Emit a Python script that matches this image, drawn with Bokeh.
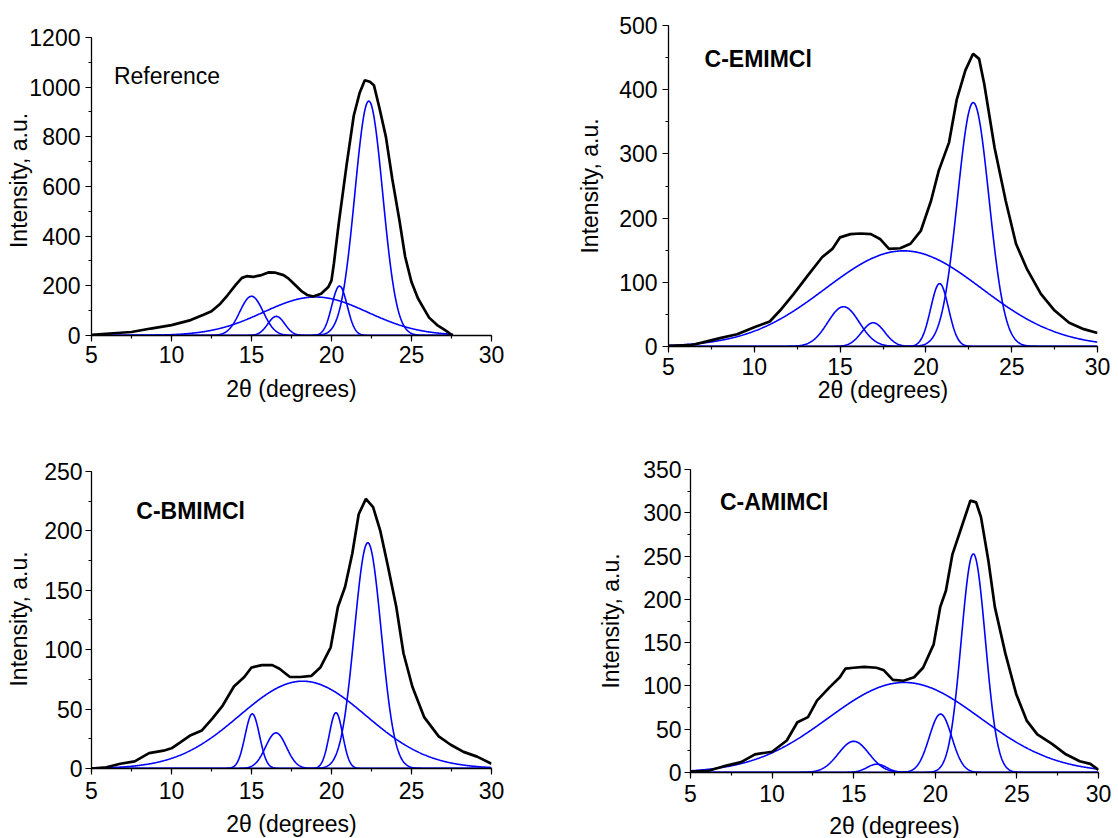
import numpy as np
from bokeh.plotting import figure
from bokeh.models import Range1d, SingleIntervalTicker, FixedTicker, LinearAxis
from bokeh.models import Label
from bokeh.layouts import column, row
from bokeh.embed import file_html
from bokeh.resources import INLINE

# ---------------- data ----------------
# Panel 1: Reference (measured curve)
ref_x = [5.0, 5.9, 7.5, 8.7, 10.0, 11.2, 12.0, 12.5, 13.05, 13.5, 14.0, 14.4, 14.7, 15.1, 15.55,
         16.05, 16.5, 17.0, 17.3, 17.7, 18.1, 18.5, 18.85, 19.35, 19.8, 20.0, 20.15, 20.45, 20.94,
         21.39, 21.75, 22.08, 22.4, 22.65, 23.0, 23.4, 23.8, 24.25, 24.6, 25.0, 25.4, 25.8, 26.1,
         26.6, 27.1, 27.57]
ref_y = [3, 7, 14, 28, 42, 62, 84, 98, 128, 162, 203, 232, 239, 236, 242,
         254, 253, 243, 230, 205, 180, 163, 157, 168, 195, 222, 290, 450, 685,
         885, 975, 1028, 1022, 1008, 915, 800, 630, 462, 318, 215, 150, 105, 72,
         42, 22, 0]
# fitted peaks: centre (deg), height, sigma (deg)
ref_centres = [15.0, 16.55, 19.0, 20.5, 22.33]
ref_heights = [158, 77, 155, 199, 944]
ref_sigmas = [0.73, 0.53, 3.25, 0.48, 0.87]

# Panel 2: C-EMIMCl
emim_x = [5.0, 6.3, 6.95, 8.0, 9.0, 10.0, 10.9, 11.5, 12.3, 13.1, 13.95, 14.55, 15.0, 15.6, 16.2,
          16.8, 17.35, 17.85, 18.5, 19.1, 19.7, 20.3, 20.75, 21.35, 21.8, 22.3, 22.75, 23.1, 23.4,
          24.0, 24.65, 25.25, 25.9, 26.7, 27.5, 28.35, 29.2, 30.0]
emim_y = [1, 2, 6, 13, 19, 30, 39, 56, 82, 110, 139, 152, 170, 175, 176,
          175, 167, 152, 153, 160, 180, 227, 274, 318, 385, 430, 456, 448, 409,
          310, 227, 160, 120, 82, 56, 37, 27, 21]
emim_centres = [15.2, 16.93, 18.7, 20.8, 22.76]
emim_heights = [62, 37, 149, 98, 380]
emim_sigmas = [0.92, 0.67, 4.55, 0.52, 0.92]

# Panel 3: C-BMIMCl
bmim_x = [5.0, 5.93, 6.8, 7.7, 8.6, 9.5, 10.0, 10.55, 11.2, 11.9, 12.55, 13.2, 13.9, 14.55, 15.0,
          15.65, 16.3, 16.75, 17.4, 18.05, 18.75, 19.3, 19.95, 20.4, 20.85, 21.3, 21.7, 22.15,
          22.6, 23.05, 23.5, 24.05, 24.5, 25.05, 25.8, 26.7, 27.45, 28.25, 29.1, 30.0]
bmim_y = [0, 1, 4, 6, 13, 15, 17, 22, 28, 32, 42, 53, 69, 77, 85,
          87, 87, 84, 77, 77, 78, 85, 102, 136, 153, 181, 214, 227,
          220, 200, 172, 136, 97, 69, 43, 27, 20, 14, 10, 4]
bmim_centres = [15.05, 16.53, 18.2, 20.28, 22.27]
bmim_heights = [46, 30, 73.5, 47, 190]
bmim_sigmas = [0.45, 0.65, 3.95, 0.42, 0.84]

# Panel 4: C-AMIMCl
amim_x = [5.0, 6.1, 7.2, 8.1, 8.95, 10.0, 10.9, 11.55, 12.2, 12.75, 13.5, 14.15, 14.5, 15.0, 15.65,
          16.4, 16.85, 17.4, 18.05, 18.7, 19.25, 19.9, 20.3, 20.65, 21.05, 21.6, 22.15, 22.5,
          22.8, 23.25, 23.65, 24.3, 24.95, 25.6, 26.25, 27.15, 28.0, 28.85, 29.5, 30.0]
amim_y = [1, 2, 8, 12, 21, 24, 37, 58, 64, 83, 98, 110, 120, 121, 122,
          121, 118, 107, 106, 110, 121, 148, 191, 210, 252, 283, 314, 312,
          295, 245, 191, 137, 91, 60, 44, 33, 21, 13, 10, 3]
amim_centres = [15.0, 16.42, 18.1, 20.32, 22.33]
amim_heights = [36, 9.6, 104, 67.5, 252.5]
amim_sigmas = [0.94, 0.6, 4.65, 0.69, 0.74]

titles = ["Reference", "C-EMIMCl", "C-BMIMCl", "C-AMIMCl"]
x_label = "2\u03b8 (degrees)"
y_label = "Intensity, a.u."

FONT = "Liberation Sans"
FS = "23px"


def style_axis(ax):
    ax.axis_line_color = "black"
    ax.axis_line_width = 1.3
    ax.major_tick_line_color = "black"
    ax.minor_tick_line_color = "black"
    ax.major_tick_line_width = 1.2
    ax.minor_tick_line_width = 1.2
    ax.major_tick_in = 0
    ax.major_tick_out = 6
    ax.minor_tick_in = 0
    ax.minor_tick_out = 3
    ax.major_label_text_font = FONT
    ax.major_label_text_font_size = FS
    ax.major_label_text_color = "black"


def title_axis(label, centre, standoff):
    # an axis that only carries the title (no line, no ticks); the title is
    # centred on the (narrow, in-range) bounds
    ax = LinearAxis(ticker=FixedTicker(ticks=[]), bounds=(centre - 0.01, centre + 0.01),
                    axis_label=label)
    ax.axis_line_color = None
    ax.major_tick_line_color = None
    ax.minor_tick_line_color = None
    ax.major_tick_out = 0
    ax.minor_tick_out = 0
    ax.major_label_standoff = 0
    ax.axis_label_standoff = standoff
    ax.axis_label_text_font = FONT
    ax.axis_label_text_font_size = FS
    ax.axis_label_text_font_style = "normal"
    ax.axis_label_text_color = "black"
    return ax


def make_panel(xs, ys, centres, heights, sigmas, x_end, y_axis_max, y_top, yint,
               title, bold, title_pos, xlab_c, ylab_c,
               bl, fw, br, bt, fh, bb, xst, yst, xls, yls):
    p = figure(frame_width=fw, frame_height=fh,
               min_border_left=bl, min_border_right=br, min_border_top=bt, min_border_bottom=bb,
               x_range=Range1d(5, 30), y_range=Range1d(0, y_top),
               output_backend="svg", toolbar_location=None)
    p.outline_line_color = None
    p.xgrid.visible = False
    p.ygrid.visible = False
    p.background_fill_color = "white"
    p.border_fill_color = "white"

    p.xaxis.ticker = SingleIntervalTicker(interval=5, num_minor_ticks=2)
    p.yaxis.ticker = SingleIntervalTicker(interval=yint, num_minor_ticks=2)
    p.yaxis.bounds = (0, y_axis_max)
    style_axis(p.xaxis[0])
    style_axis(p.yaxis[0])
    p.xaxis.major_label_standoff = xst
    p.yaxis.major_label_standoff = yst

    p.add_layout(title_axis(x_label, xlab_c, xls), "below")
    p.add_layout(title_axis(y_label, ylab_c, yls), "left")

    # fitted Gaussian components
    gx = np.linspace(5, x_end, 700)
    for c, h, s in zip(centres, heights, sigmas):
        gy = h * np.exp(-((gx - c) ** 2) / (2 * s * s))
        p.line(gx, gy, line_color="#0000FF", line_width=1.6)
    # measured pattern
    p.line(xs, ys, line_color="black", line_width=2.7)

    p.add_layout(Label(x=title_pos[0], y=title_pos[1], text=title, text_font=FONT,
                       text_font_size=FS, text_font_style="bold" if bold else "normal",
                       text_color="black", text_baseline="alphabetic"))
    return p


# row 1 : height 418 ; row 2 : height 420
f1 = make_panel(ref_x, ref_y, ref_centres, ref_heights, ref_sigmas, 27.6, 1200, 1248.3, 200,
                titles[0], False, (6.4, 1045), 19.1, 565,
                91, 400, 69, 25, 310, 83, 4, 5, 10, -5)
f2 = make_panel(emim_x, emim_y, emim_centres, emim_heights, emim_sigmas, 30, 500, 500, 100,
                titles[1], True, (7.1, 448), 17.5, 235,
                108, 429, 19, 25, 321, 72, 5, 5, -1, 14)
f3 = make_panel(bmim_x, bmim_y, bmim_centres, bmim_heights, bmim_sigmas, 30, 250, 251.68, 50,
                titles[2], True, (7.8, 217), 18.75, 117,
                91, 400, 69, 51, 299, 70, 7, 3, 9, 10)
f4 = make_panel(amim_x, amim_y, amim_centres, amim_heights, amim_sigmas, 30, 350, 350, 50,
                titles[3], True, (6.8, 312), 18.14, 162,
                130, 408, 18, 51, 303, 66, 6, 3, 8, 17)

layout = column(row(f1, f2), row(f3, f4))
open("out.html", "w").write(file_html(layout, INLINE))
